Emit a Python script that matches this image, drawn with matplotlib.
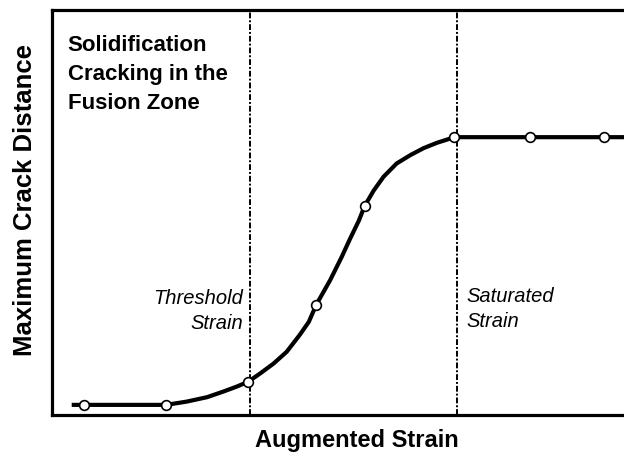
import matplotlib.pyplot as plt
import numpy as np

plt.rcParams['font.family'] = ['Liberation Sans', 'DejaVu Sans']

# curve (strain, crack distance, arbitrary units)
curve_x = np.array([0.35, 0.50, 1.50, 1.75, 2.00, 2.20, 2.36, 2.50, 2.65, 2.81, 2.97, 3.13,
                    3.24, 3.33, 3.50, 3.64, 3.74, 3.85, 3.92, 4.03, 4.15, 4.31, 4.48, 4.64,
                    4.80, 4.94, 5.01, 5.93, 6.84, 7.60])
curve_y = np.array([0.25, 0.25, 0.25, 0.33, 0.44, 0.58, 0.70, 0.82, 1.03, 1.27, 1.56, 1.98,
                    2.30, 2.72, 3.33, 3.90, 4.34, 4.80, 5.16, 5.54, 5.88, 6.21, 6.42, 6.59,
                    6.72, 6.81, 6.86, 6.86, 6.86, 6.86])

# measured points (open circles)
pts_x = np.array([0.50, 1.50, 2.50, 3.33, 3.92, 5.01, 5.93, 6.84])
pts_y = np.array([0.25, 0.25, 0.82, 2.72, 5.16, 6.86, 6.86, 6.86])

threshold = 2.52
saturated = 5.04

fig = plt.figure(figsize=(6.24, 4.57), dpi=100)
# axes runs past the right edge of the figure, as in the cropped original
ax = fig.add_axes([52 / 624, 42 / 457, 608 / 624, 405 / 457])
ax.set_xlim(0.11, 7.52)
ax.set_ylim(0, 10)

ax.plot(curve_x, curve_y, color='black', lw=3, solid_capstyle='butt',
        solid_joinstyle='round', zorder=3)
ax.plot(pts_x, pts_y, 'o', ms=7, mfc='white', mec='black', mew=1.2, zorder=4)

for xv in [threshold, saturated]:
    ax.axvline(xv, color='black', lw=1.4, ls=(0, (3, 1, 1, 1)), zorder=2)

ax.text(0.30, 9.38, 'Solidification\nCracking in the\nFusion Zone', fontsize=16,
        fontweight='bold', va='top', ha='left', linespacing=1.5)
ax.text(2.44, 3.12, 'Threshold\nStrain', fontsize=14.5, style='italic',
        va='top', ha='right', multialignment='right', linespacing=1.45)
ax.text(5.16, 3.17, 'Saturated\nStrain', fontsize=14.5, style='italic',
        va='top', ha='left', linespacing=1.45)

for s in ax.spines.values():
    s.set_linewidth(2.3)
ax.set_xticks([])
ax.set_yticks([])

fig.text(357 / 624, 1 - 440 / 457, 'Augmented Strain', fontsize=17, fontweight='bold',
         ha='center', va='center')
fig.text(25 / 624, 1 - 200 / 457, 'Maximum Crack Distance', fontsize=18.5, fontweight='bold',
         ha='center', va='center', rotation=90)

fig.savefig('out.png', dpi=100)
